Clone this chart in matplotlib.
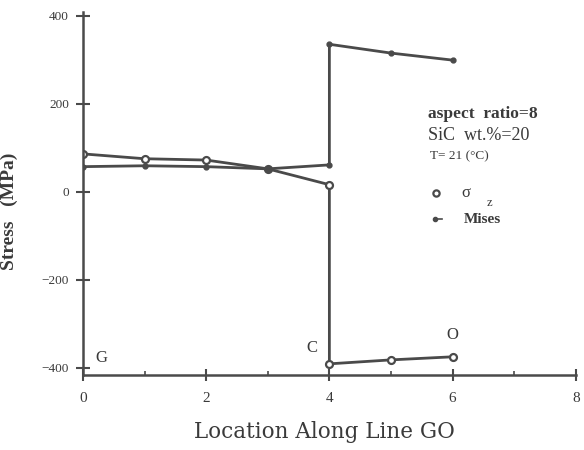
import matplotlib
matplotlib.use("Agg")
import matplotlib.pyplot as plt
from matplotlib.ticker import MultipleLocator

plt.rcParams['font.family'] = ['Liberation Serif', 'DejaVu Serif']

# Data
x_sigma = [0, 1, 2, 3, 4, 4, 5, 6]
sigma_z = [86, 75, 72, 52, 16, -391, -382, -375]
x_mises = [0, 1, 2, 3, 4, 4, 5, 6]
mises = [57, 59, 57, 52, 61, 335, 315, 299]

xticks = [0, 2, 4, 6, 8]
yticks = [-400, -200, 0, 200, 400]

col = '#4a4a4a'
tcol = '#3a3a3a'

fig = plt.figure(figsize=(5.84, 4.5), dpi=100)
ax = fig.add_axes([0.142, 0.167, 0.844, 0.806])

ax.plot(x_sigma, sigma_z, color=col, lw=2.0, marker='o', ms=5,
        mfc='white', mec=col, mew=1.6)
ax.plot(x_mises, mises, color=col, lw=2.0, marker='o', ms=3.5,
        mfc=col, mec=col)

ax.set_xlim(0, 8)
ax.set_ylim(-416, 408)
ax.set_xticks(xticks)
ax.set_yticks(yticks)
ax.xaxis.set_minor_locator(MultipleLocator(1))
for s in ['top', 'right']:
    ax.spines[s].set_visible(False)
for s in ['left', 'bottom']:
    ax.spines[s].set_color(col)
    ax.spines[s].set_linewidth(1.8)
ax.tick_params(axis='x', which='major', direction='inout', length=8, width=1.5,
               colors=col, labelsize=11, pad=8)
ax.tick_params(axis='x', which='minor', direction='in', length=3, width=1.2, colors=col)
ax.tick_params(axis='y', which='major', direction='inout', length=10, width=1.5,
               colors=col, labelsize=9.5, pad=5)
for lab in ax.get_xticklabels() + ax.get_yticklabels():
    lab.set_color(tcol)

ax.set_xlabel('Location Along Line GO', fontsize=15.5, color=tcol,
              family=['DejaVu Serif'], va='center')
ax.xaxis.set_label_coords(0.49, -0.158)
ax.set_ylabel('Stress   (MPa)', fontsize=14, fontweight='bold', color=tcol)
ax.yaxis.set_label_coords(-0.132, 0.45)

# Annotations
ax.text(5.6, 176, 'aspect  ratio=8', fontsize=12.5,
        fontweight='bold', color=tcol, va='center')
ax.text(5.6, 127, 'SiC  wt.%=20', fontsize=13, color=tcol, va='center')
ax.text(5.63, 81, 'T= 21 (°C)', fontsize=9.5, color=tcol, va='center')

ax.plot([5.73], [-3], marker='o', ms=4.5, mfc='white', mec=col, mew=1.6, ls='none')
ax.text(6.15, -3, 'σ', fontsize=12, color=tcol, va='center')
ax.text(6.55, -25, 'z', fontsize=9, color=tcol, va='center')
ax.plot([5.72], [-63], marker='o', ms=3, mfc=col, mec=col, ls='none')
ax.plot([5.70, 5.82], [-63, -63], color=col, lw=1.2)
ax.text(6.18, -63, 'Mises', fontsize=11, fontweight='bold', color=tcol, va='center')

ax.text(0.3, -378, 'G', fontsize=12, color=tcol, va='center', ha='center')
ax.text(3.72, -355, 'C', fontsize=12, color=tcol, va='center', ha='center')
ax.text(5.99, -326, 'O', fontsize=12, color=tcol, va='center', ha='center')

fig.savefig('out.png', dpi=100)
